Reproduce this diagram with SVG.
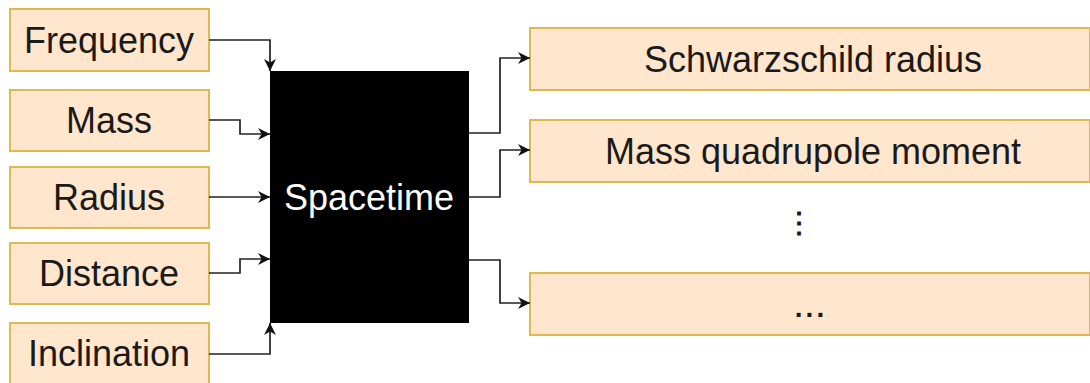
<svg xmlns="http://www.w3.org/2000/svg" width="1090" height="383" viewBox="0 0 1090 383">
<defs>
<style>
.box{fill:#ffe6cc;stroke:#e0b850;stroke-width:2}
.lbl{font-family:"Liberation Sans",Arial,sans-serif;font-size:36px;fill:#1a1a1a;text-anchor:middle}
.con{fill:none;stroke:#222;stroke-width:1.7}
</style>
<marker id="arr" viewBox="0 0 10 10" refX="10" refY="5" markerWidth="12" markerHeight="12" markerUnits="userSpaceOnUse" orient="auto">
<path d="M0,0 L10,5 L0,10 L3,5 Z" fill="#111"/>
</marker>
</defs>
<rect width="1090" height="383" fill="#fff"/>
<g id="frequency"><rect class="box" x="10" y="9" width="199" height="62"/><text class="lbl" x="109" y="53">Frequency</text></g>
<g id="mass"><rect class="box" x="10" y="90" width="199" height="61"/><text class="lbl" x="109" y="133">Mass</text></g>
<g id="radius"><rect class="box" x="10" y="167" width="199" height="61"/><text class="lbl" x="109" y="210">Radius</text></g>
<g id="distance"><rect class="box" x="10" y="243" width="199" height="61"/><text class="lbl" x="109" y="286">Distance</text></g>
<g id="inclination"><rect class="box" x="10" y="323" width="199" height="62"/><text class="lbl" x="109" y="366">Inclination</text></g>
<g id="spacetime"><rect x="270" y="71" width="199" height="252" fill="#000"/><text class="lbl" x="369" y="210" style="fill:#fff">Spacetime</text></g>
<g id="schwarzschild"><rect class="box" x="530" y="28" width="560" height="62"/><text class="lbl" x="813" y="72">Schwarzschild radius</text></g>
<g id="quadrupole"><rect class="box" x="530" y="120" width="560" height="62"/><text class="lbl" x="813" y="164">Mass quadrupole moment</text></g>
<g id="ellipsis"><text class="lbl" x="799" y="232" style="font-size:28px;font-weight:bold">⋮</text></g>
<g id="more"><rect class="box" x="530" y="273" width="560" height="62"/><text class="lbl" x="811" y="317" style="font-size:28px;font-weight:bold;letter-spacing:3px">...</text></g>
<g id="connectors">
<path class="con" marker-end="url(#arr)" d="M209,40 H270 V71"/>
<path class="con" marker-end="url(#arr)" d="M209,120 H240 V134 H270"/>
<path class="con" marker-end="url(#arr)" d="M209,197 H270"/>
<path class="con" marker-end="url(#arr)" d="M209,273 H240 V259 H270"/>
<path class="con" marker-end="url(#arr)" d="M209,354 H270 V323"/>
<path class="con" marker-end="url(#arr)" d="M469,133 H500 V58 H530"/>
<path class="con" marker-end="url(#arr)" d="M469,197 H500 V150 H530"/>
<path class="con" marker-end="url(#arr)" d="M469,260 H500 V303 H530"/>
</g>
</svg>
